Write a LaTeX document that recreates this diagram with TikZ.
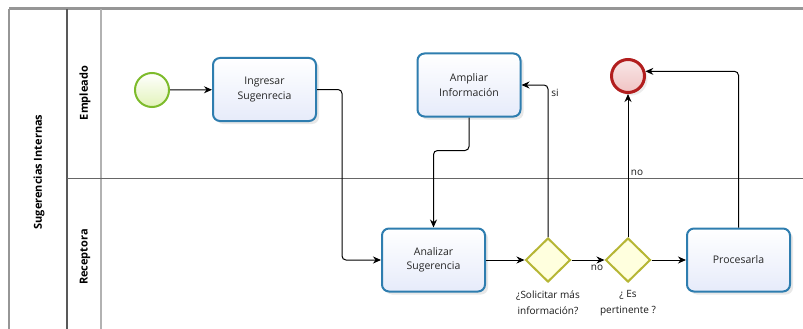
\documentclass[tikz,border=0pt]{standalone}
\usepackage{fontspec}
\setmainfont{Open Sans}
\usetikzlibrary{shapes.geometric,arrows.meta,shadows}

\definecolor{taskborder}{RGB}{46,125,175}
\definecolor{taskfill}{RGB}{230,235,250}
\definecolor{startborder}{RGB}{125,187,43}
\definecolor{startfill}{RGB}{226,243,185}
\definecolor{endborder}{RGB}{178,30,30}
\definecolor{endfill}{RGB}{240,195,195}
\definecolor{gateborder}{RGB}{182,182,52}
\definecolor{gatefill}{RGB}{255,255,222}
\definecolor{poolline}{RGB}{150,150,150}

\tikzset{
  task/.style={rectangle, rounded corners=7pt, draw=taskborder, line width=2pt,
    top color=white, bottom color=taskfill, minimum width=103pt, minimum height=63pt,
    align=center, font=\fontsize{10.5}{14.5}\selectfont, text=black!85,
    drop shadow={shadow xshift=3pt, shadow yshift=-3pt, opacity=0.18}},
  startev/.style={circle, draw=startborder, line width=2pt, inner sep=0pt,
    top color=white, bottom color=startfill, minimum size=34pt},
  endev/.style={circle, draw=endborder, line width=3pt, inner sep=0pt,
    top color=white!60!endfill, bottom color=endfill, minimum size=33pt,
    drop shadow={shadow xshift=3pt, shadow yshift=-3pt, opacity=0.15}},
  gateway/.style={diamond, draw=gateborder, line width=2pt, fill=gatefill,
    inner sep=0pt, minimum width=45pt, minimum height=44pt},
  flow/.style={draw=black, line width=1pt, rounded corners=4pt,
    -{Stealth[length=8pt,width=7pt]}},
  flowlabel/.style={font=\fontsize{10}{11}\selectfont, text=black!90, inner sep=0pt},
  gatelabel/.style={font=\fontsize{10}{16}\selectfont, text=black!90, align=center},
  lanelabel/.style={font=\bfseries\fontsize{11}{13}\selectfont, rotate=90}
}

\begin{document}
\begin{tikzpicture}[x=1pt, y=-1pt]
  \useasboundingbox (0,0) rectangle (803,329);
  \fill[white] (0,0) rectangle (803,329);

  % pool and lanes
  \draw[poolline, line width=3pt] (9,9) -- (803,9);
  \draw[poolline, line width=1.2pt] (9,9) -- (9,329);
  \draw[black!65, line width=1.2pt] (67,9) -- (67,329);
  \draw[black!30, line width=1.2pt] (101,9) -- (101,329);
  \draw[black!60, line width=0.9pt] (67,178) -- (803,178);

  \node[lanelabel] (pool) at (39,172) {Sugerencias Internas};
  \node[lanelabel] (lane1) at (85,93) {Empleado};
  \node[lanelabel] (lane2) at (85,257) {Receptora};

  % flow objects
  \node[startev] (start) at (152,90) {};
  \node[task] (ingresar) at (264.5,89.5) {Ingresar\\Sugenrecia};
  \node[task] (ampliar) at (469,85) {Ampliar\\Información};
  \node[endev] (end) at (628,76) {};
  \node[task] (analizar) at (433.5,260) {Analizar\\Sugerencia};
  \node[gateway] (gw1) at (548,260) {};
  \node[gateway] (gw2) at (628,260) {};
  \node[task] (proc) at (738.5,260) {Procesarla};

  \node[gatelabel] (gw1text) at (548,303) {¿Solicitar más\\información?};
  \node[gatelabel] (gw2text) at (628,303) {¿ Es\\pertinente ?};

  % sequence flows
  \draw[flow] (start) -- (ingresar);
  \draw[flow] (ingresar.east) -- ++(25,0) |- (analizar.west);
  \draw[flow] (ampliar.south) -- ++(0,33) -| (analizar.north);
  \draw[flow] (analizar) -- (gw1);
  \draw[flow] (gw1.north) |- (ampliar.east);
  \draw[flow] (gw1) -- (gw2);
  \draw[flow] (gw2.north) -- (end.south);
  \draw[flow] (gw2) -- (proc);
  \draw[flow] (proc.north) |- (end.15);

  \node[flowlabel] (si) at (555,93) {si};
  \node[flowlabel] (no1) at (597,268) {no};
  \node[flowlabel] (no2) at (637,173) {no};
\end{tikzpicture}
\end{document}
